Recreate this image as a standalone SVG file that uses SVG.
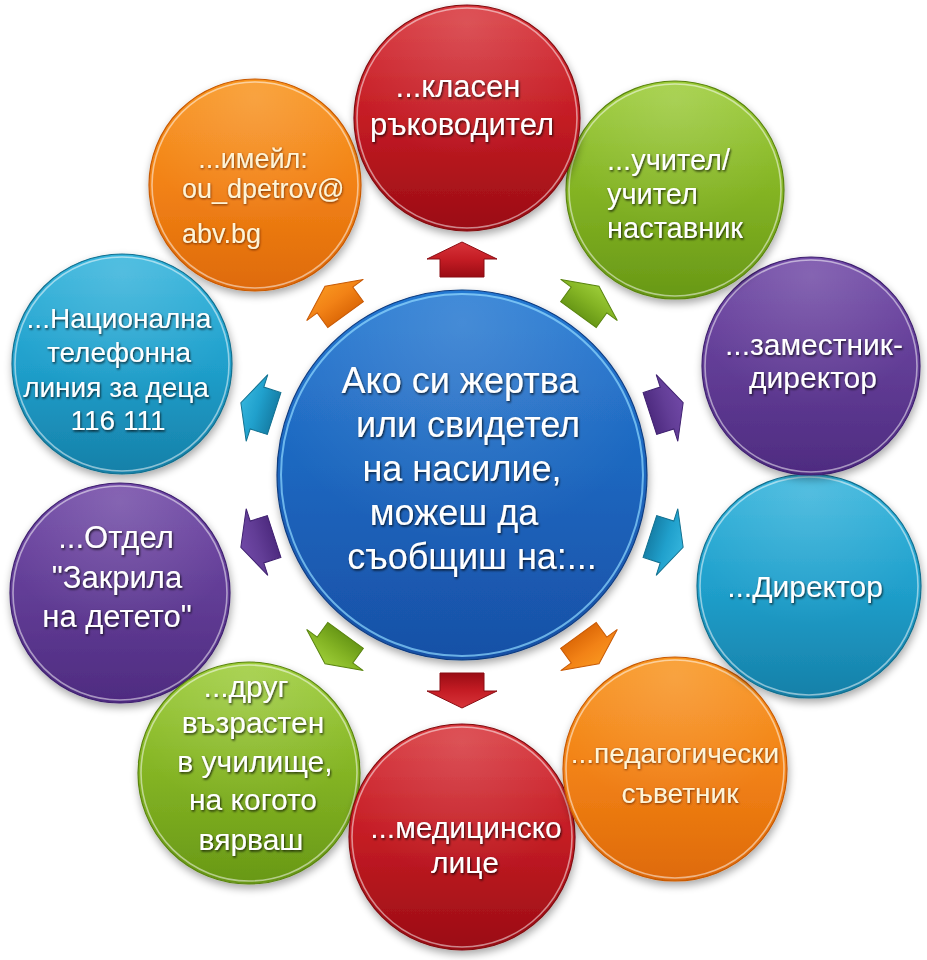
<svg xmlns="http://www.w3.org/2000/svg" width="927" height="960" viewBox="0 0 927 960">
<defs>
  <linearGradient id="gRed" x1="0" y1="0" x2="0" y2="1">
    <stop offset="0" stop-color="#d8343a"/><stop offset="0.5" stop-color="#c41c24"/><stop offset="1" stop-color="#9a0c14"/>
  </linearGradient>
  <linearGradient id="gGreen" x1="0" y1="0" x2="0" y2="1">
    <stop offset="0" stop-color="#9ccc38"/><stop offset="0.5" stop-color="#84b424"/><stop offset="1" stop-color="#689816"/>
  </linearGradient>
  <linearGradient id="gPurple" x1="0" y1="0" x2="0" y2="1">
    <stop offset="0" stop-color="#7048a6"/><stop offset="0.5" stop-color="#623d96"/><stop offset="1" stop-color="#4e2b80"/>
  </linearGradient>
  <linearGradient id="gCyan" x1="0" y1="0" x2="0" y2="1">
    <stop offset="0" stop-color="#34b4dc"/><stop offset="0.5" stop-color="#20a0cc"/><stop offset="1" stop-color="#1680a8"/>
  </linearGradient>
  <linearGradient id="gOrange" x1="0" y1="0" x2="0" y2="1">
    <stop offset="0" stop-color="#f8941e"/><stop offset="0.5" stop-color="#f28216"/><stop offset="1" stop-color="#de6a08"/>
  </linearGradient>
  <linearGradient id="gBlue" x1="0" y1="0" x2="0" y2="1">
    <stop offset="0" stop-color="#2478d2"/><stop offset="0.5" stop-color="#1d66be"/><stop offset="1" stop-color="#1850a6"/>
  </linearGradient>
  <radialGradient id="gShine" cx="0.5" cy="0.08" r="0.6">
    <stop offset="0" stop-color="#ffffff" stop-opacity="0.16"/><stop offset="1" stop-color="#ffffff" stop-opacity="0"/>
  </radialGradient>
  <filter id="shadow" x="-20%" y="-20%" width="140%" height="140%">
    <feGaussianBlur in="SourceAlpha" stdDeviation="4"/>
    <feOffset dx="1" dy="4" result="b"/>
    <feComponentTransfer><feFuncA type="linear" slope="0.35"/></feComponentTransfer>
    <feMerge><feMergeNode/><feMergeNode in="SourceGraphic"/></feMerge>
  </filter>
  <filter id="txt" x="-10%" y="-30%" width="120%" height="160%">
    <feDropShadow dx="1" dy="1.5" stdDeviation="1.2" flood-color="#000" flood-opacity="0.75"/>
  </filter>
  <filter id="txtO" x="-10%" y="-30%" width="120%" height="160%">
    <feDropShadow dx="0.5" dy="1" stdDeviation="1.2" flood-color="#6a2800" flood-opacity="0.95"/>
  </filter>
  <path id="arr" d="M0,-17 L35,0 L22,0 L22,18 L-22,18 L-22,0 L-35,0 Z"/>
  <style>
    .ball { filter: url(#shadow); stroke-width: 1.2; }
    .rim { fill: none; stroke: #ffffff; stroke-opacity: 0.5; stroke-width: 1.6; }
    .shine { fill: url(#gShine); }
    text { font-family: "Liberation Sans", Arial, "Noto Sans", sans-serif; fill: #ffffff; text-anchor: middle; filter: url(#txt); }
    .o text { fill: #fff4d6; filter: url(#txtO); }
    .f31 { font-size: 31px; } .f30 { font-size: 30px; } .f29 { font-size: 29px; } .f28 { font-size: 28px; } .f27 { font-size: 27px; }
    .c { font-size: 36px; }
    .arrow { stroke-width: 1; }
  </style>
</defs>

<rect width="927" height="960" fill="#ffffff"/>

<!-- outer nodes -->
<g id="node-email" class="o">
  <circle class="ball" cx="255" cy="185" r="106" fill="url(#gOrange)" stroke="#c85a06"/>
  <circle class="shine" cx="255" cy="185" r="104"/>
  <circle class="rim" cx="255" cy="185" r="103"/>
  <text class="f27" x="253" y="168">...имейл:</text>
  <text class="f27" x="182" y="198" style="text-anchor:start">ou_dpetrov@</text>
  <text class="f27" x="182" y="243" style="text-anchor:start">abv.bg</text>
</g>

<g id="node-cyan-left">
  <circle class="ball" cx="122" cy="364" r="110" fill="url(#gCyan)" stroke="#12708f"/>
  <circle class="shine" cx="122" cy="364" r="108"/>
  <circle class="rim" cx="122" cy="364" r="107"/>
  <text class="f28" x="119" y="328">...Национална</text>
  <text class="f28" x="119" y="362">телефонна</text>
  <text class="f28" x="116" y="397">линия за деца</text>
  <text class="f28" x="118" y="430">116 111</text>
</g>

<g id="node-purple-left">
  <circle class="ball" cx="120" cy="593" r="110" fill="url(#gPurple)" stroke="#3f2070"/>
  <circle class="shine" cx="120" cy="593" r="108"/>
  <circle class="rim" cx="120" cy="593" r="107"/>
  <text class="f31" x="116" y="548">...Отдел</text>
  <text class="f31" x="117" y="588">"Закрила</text>
  <text class="f31" x="117" y="627">на детето"</text>
</g>

<g id="node-green-bl">
  <circle class="ball" cx="249" cy="773" r="111" fill="url(#gGreen)" stroke="#5a8510"/>
  <circle class="shine" cx="249" cy="773" r="109"/>
  <circle class="rim" cx="249" cy="773" r="108"/>
  <text class="f30" x="246" y="697">...друг</text>
  <text class="f30" x="253" y="733">възрастен</text>
  <text class="f30" x="255" y="772">в училище,</text>
  <text class="f30" x="253" y="810">на когото</text>
  <text class="f30" x="251" y="850">вярваш</text>
</g>

<g id="node-red-bottom">
  <circle class="ball" cx="462" cy="837" r="113" fill="url(#gRed)" stroke="#800a10"/>
  <circle class="shine" cx="462" cy="837" r="111"/>
  <circle class="rim" cx="462" cy="837" r="110"/>
  <text class="f30" x="466" y="838">...медицинско</text>
  <text class="f30" x="465" y="873">лице</text>
</g>

<g id="node-orange-br" class="o">
  <circle class="ball" cx="675" cy="769" r="112" fill="url(#gOrange)" stroke="#c85a06"/>
  <circle class="shine" cx="675" cy="769" r="110"/>
  <circle class="rim" cx="675" cy="769" r="109"/>
  <text class="f28" x="675" y="763">...педагогически</text>
  <text class="f28" x="680" y="803">съветник</text>
</g>

<g id="node-cyan-right">
  <circle class="ball" cx="809" cy="586" r="112" fill="url(#gCyan)" stroke="#12708f"/>
  <circle class="shine" cx="809" cy="586" r="110"/>
  <circle class="rim" cx="809" cy="586" r="109"/>
  <text class="f30" x="805" y="597">...Директор</text>
</g>

<g id="node-purple-right">
  <circle class="ball" cx="811" cy="366" r="109" fill="url(#gPurple)" stroke="#3f2070"/>
  <circle class="shine" cx="811" cy="366" r="107"/>
  <circle class="rim" cx="811" cy="366" r="106"/>
  <text class="f30" x="814" y="355">...заместник-</text>
  <text class="f30" x="813" y="388">директор</text>
</g>

<g id="node-green-tr">
  <circle class="ball" cx="675" cy="190" r="109" fill="url(#gGreen)" stroke="#5a8510"/>
  <circle class="shine" cx="675" cy="190" r="107"/>
  <circle class="rim" cx="675" cy="190" r="106"/>
  <text class="f29" x="607" y="170" style="text-anchor:start">...учител/</text>
  <text class="f29" x="607" y="204" style="text-anchor:start">учител</text>
  <text class="f29" x="607" y="238" style="text-anchor:start">наставник</text>
</g>

<g id="node-red-top">
  <circle class="ball" cx="467" cy="118" r="113" fill="url(#gRed)" stroke="#800a10"/>
  <circle class="shine" cx="467" cy="118" r="111"/>
  <circle class="rim" cx="467" cy="118" r="110"/>
  <text class="f31" x="458" y="97">...класен</text>
  <text class="f31" x="462" y="135">ръководител</text>
</g>

<!-- center -->
<g id="node-center">
  <circle class="ball" cx="462" cy="475" r="185" fill="url(#gBlue)" stroke="#0e3c80" stroke-width="1.5"/>
  <circle class="shine" cx="462" cy="475" r="182"/>
  <circle cx="462" cy="475" r="181" fill="none" stroke="#8fd8ff" stroke-opacity="0.7" stroke-width="2"/>
  <text class="c" x="460" y="393">Ако си жертва</text>
  <text class="c" x="468" y="437">или свидетел</text>
  <text class="c" x="462" y="481">на насилие,</text>
  <text class="c" x="454" y="525">можеш да</text>
  <text class="c" x="472" y="569">съобщиш на:...</text>
</g>

<!-- connectors -->
<g id="connectors" class="arrow">
  <use href="#arr" transform="translate(462,259) rotate(0)" fill="url(#gRed)" stroke="#8a0c12"/>
  <use href="#arr" transform="translate(589,300) rotate(36)" fill="url(#gGreen)" stroke="#5a8510"/>
  <use href="#arr" transform="translate(667,408) rotate(72)" fill="url(#gPurple)" stroke="#3f2070"/>
  <use href="#arr" transform="translate(667,542) rotate(108)" fill="url(#gCyan)" stroke="#12708f"/>
  <use href="#arr" transform="translate(589,650) rotate(144)" fill="url(#gOrange)" stroke="#c85a06"/>
  <use href="#arr" transform="translate(462,691) rotate(180)" fill="url(#gRed)" stroke="#8a0c12"/>
  <use href="#arr" transform="translate(335,650) rotate(216)" fill="url(#gGreen)" stroke="#5a8510"/>
  <use href="#arr" transform="translate(257,542) rotate(252)" fill="url(#gPurple)" stroke="#3f2070"/>
  <use href="#arr" transform="translate(257,408) rotate(288)" fill="url(#gCyan)" stroke="#12708f"/>
  <use href="#arr" transform="translate(335,300) rotate(324)" fill="url(#gOrange)" stroke="#c85a06"/>
</g>
</svg>
